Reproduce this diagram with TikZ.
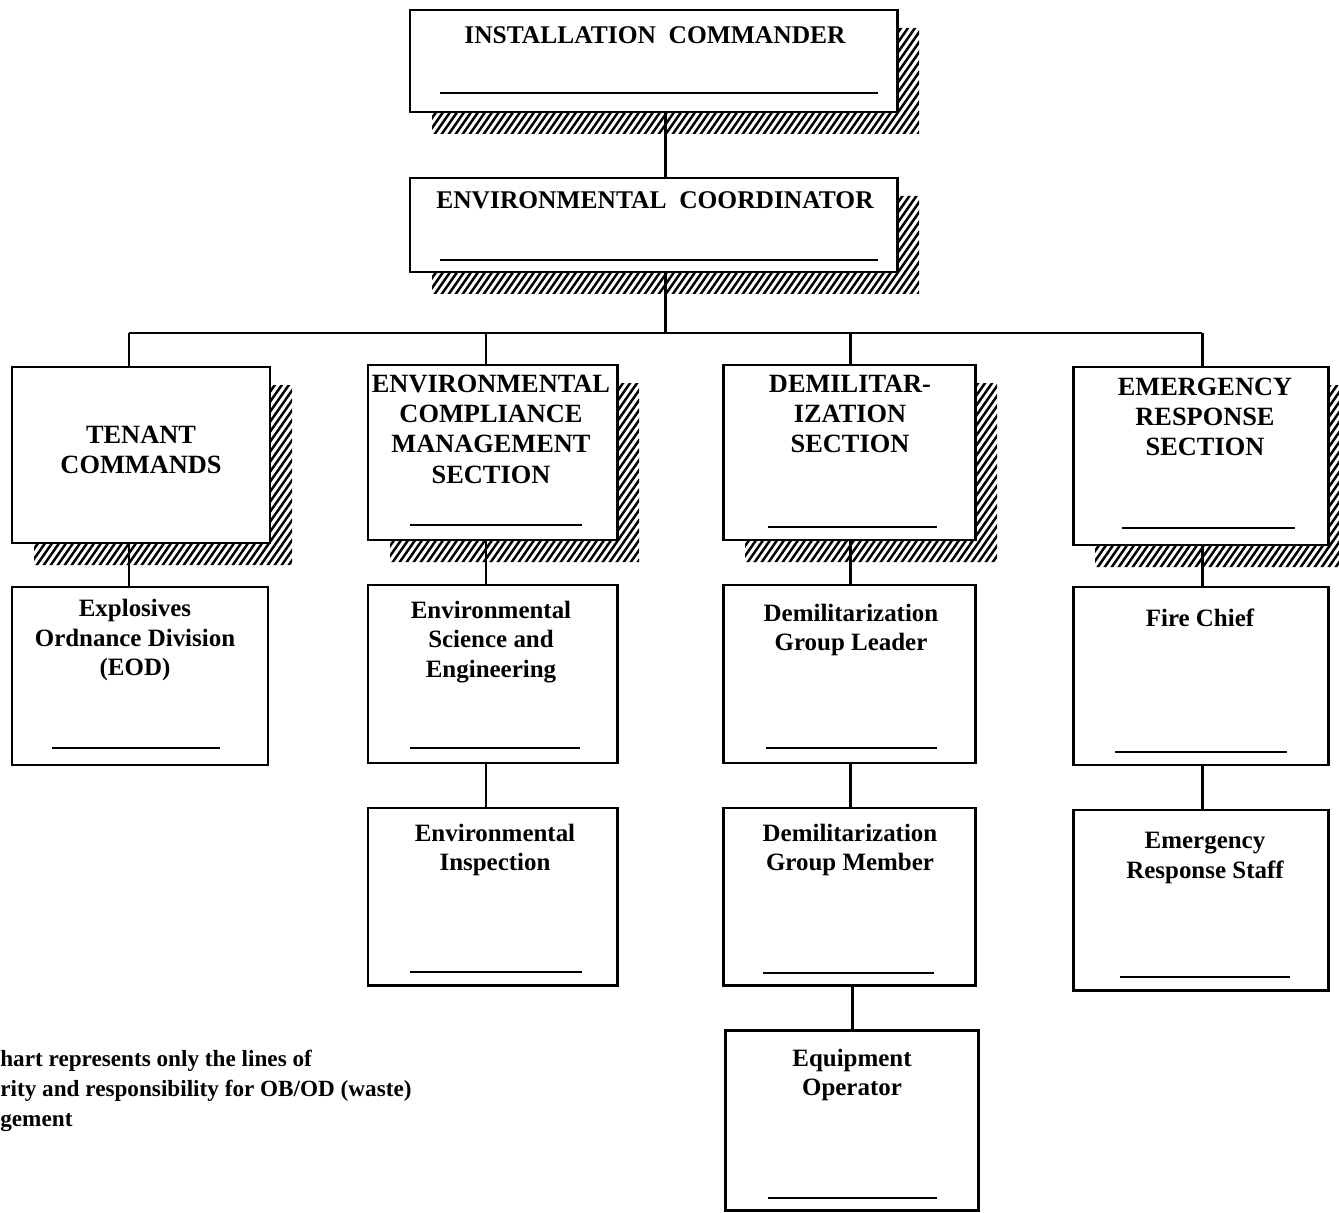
\documentclass[tikz,border=0pt]{standalone}
\usepackage{fontspec}
\setmainfont{Liberation Serif}
\usetikzlibrary{fit}
\newcommand\hatchsh[4]{%
  \begin{scope}
    \clip (#3,#2+18) rectangle (#3+22,#4+22) (#1+22,#4) rectangle (#3+22,#4+22);
    \pgfmathsetmacro\hA{#1-20}
    \pgfmathsetmacro\hB{#1-13}
    \pgfmathsetmacro\hC{#3+40}
    \pgfmathsetmacro\hL{#4-#2+30}
    \foreach \hx in {\hA,\hB,...,\hC}
      \draw[line width=1.4pt] (\hx,#4+26) -- ++({0.7*\hL},{-\hL});
  \end{scope}}
\begin{document}
\begin{tikzpicture}[x=0.02cm,y=-0.02cm,
  box/.style={draw, line width=1.7pt, inner sep=0pt},
  ttl/.style={font=\bfseries\fontsize{14.5}{17}\selectfont, align=center, inner sep=0pt},
  sec/.style={font=\bfseries\fontsize{15}{17.3}\selectfont, align=center, inner sep=0pt},
  sub/.style={font=\bfseries\fontsize{14.2}{17}\selectfont, align=center, inner sep=0pt},
  note/.style={font=\bfseries\fontsize{13.2}{17}\selectfont, align=left, inner sep=0pt, anchor=north west},
  conn/.style={line width=1.7pt},
  divl/.style={line width=1.1pt}]
\useasboundingbox (0,0) rectangle (1339,1213);

% shadows
\hatchsh{410}{10}{897}{112}
\hatchsh{410}{178}{897}{272}
\hatchsh{12}{367}{270}{543}
\hatchsh{368}{365}{617}{540}
\hatchsh{723}{365}{975}{540}
\hatchsh{1073}{367}{1328}{545}

% boxes
\node[box, fit={(410,10)(897,112)}] (ic) {};
\node[box, fit={(410,178)(897,272)}] (ec) {};
\node[box, fit={(12,367)(270,543)}] (tc) {};
\node[box, fit={(368,365)(617,540)}] (ecms) {};
\node[box, fit={(723,365)(975,540)}] (dem) {};
\node[box, fit={(1073,367)(1328,545)}] (ers) {};
\node[box, fit={(12,587)(268,765)}] (eod) {};
\node[box, fit={(368,585)(617,763)}] (ese) {};
\node[box, fit={(723,585)(975,763)}] (dgl) {};
\node[box, fit={(1073,587)(1328,765)}] (fc) {};
\node[box, fit={(368,808)(617,985)}] (ei) {};
\node[box, fit={(723,808)(975,985)}] (dgm) {};
\node[box, fit={(1073,810)(1328,990)}] (ersf) {};
\node[box, fit={(725,1030)(978,1210)}] (eo) {};

% dividers
\draw[divl] (440,93) -- (878,93);
\draw[divl] (440,260) -- (878,260);
\draw[divl] (410,525) -- (582,525);
\draw[divl] (768,527) -- (937,527);
\draw[divl] (1122,528) -- (1295,528);
\draw[divl] (52,748) -- (220,748);
\draw[divl] (410,748) -- (580,748);
\draw[divl] (766,748) -- (937,748);
\draw[divl] (1115,752) -- (1287,752);
\draw[divl] (410,972) -- (582,972);
\draw[divl] (763,973) -- (934,973);
\draw[divl] (1120,977) -- (1290,977);
\draw[divl] (768,1198) -- (937,1198);

% texts
\node[ttl] (ict) at (655,35) {INSTALLATION\enspace COMMANDER};
\node[ttl] (ect) at (655,200) {ENVIRONMENTAL\enspace COORDINATOR};
\node[sec] (tct) at (141,450) {TENANT\\COMMANDS};
\node[sec] (ecmst) at (491,429) {ENVIRONMENTAL\\COMPLIANCE\\MANAGEMENT\\SECTION};
\node[sec] (demt) at (850,414) {DEMILITAR-\\IZATION\\SECTION};
\node[sec] (erst) at (1205,417) {EMERGENCY\\RESPONSE\\SECTION};
\node[sub] (eodt) at (135,640) {Explosives\\Ordnance Division\\(EOD)};
\node[sub] (eset) at (491,642) {Environmental\\Science and\\Engineering};
\node[sub] (dglt) at (851,630) {Demilitarization\\Group Leader};
\node[sub] (fct) at (1200,618) {Fire Chief};
\node[sub] (eit) at (495,850) {Environmental\\Inspection};
\node[sub] (dgmt) at (850,850) {Demilitarization\\Group Member};
\node[sub] (ersft) at (1205,858) {Emergency\\Response Staff};
\node[sub] (eot) at (852,1075) {Equipment\\Operator};
\node[note] (nt) at (0,1050) {hart represents only the lines of\\rity and responsibility for OB/OD (waste)\\gement};

% connectors
\coordinate (xa) at (665,0);
\coordinate (xt) at (129,0);
\coordinate (xe) at (486,0);
\coordinate (xd) at (850,0);
\coordinate (xo) at (852,0);
\coordinate (xr) at (1202,0);
\coordinate (bus) at (665,333);
\draw[conn] (ic.south -| xa) -- (ec.north -| xa);
\draw[conn] (ec.south -| xa) -- (bus);
\draw[conn] (bus -| xt) -- (bus -| xr);
\draw[conn] (bus -| xt) -- (tc.north -| xt);
\draw[conn] (bus -| xe) -- (ecms.north -| xe);
\draw[conn] (bus -| xd) -- (dem.north -| xd);
\draw[conn] (bus -| xr) -- (ers.north -| xr);
\draw[conn] (tc.south -| xt) -- (eod.north -| xt);
\draw[conn] (ecms.south -| xe) -- (ese.north -| xe);
\draw[conn] (ese.south -| xe) -- (ei.north -| xe);
\draw[conn] (dem.south -| xd) -- (dgl.north -| xd);
\draw[conn] (dgl.south -| xd) -- (dgm.north -| xd);
\draw[conn] (dgm.south -| xo) -- (eo.north -| xo);
\draw[conn] (ers.south -| xr) -- (fc.north -| xr);
\draw[conn] (fc.south -| xr) -- (ersf.north -| xr);
\end{tikzpicture}
\end{document}
